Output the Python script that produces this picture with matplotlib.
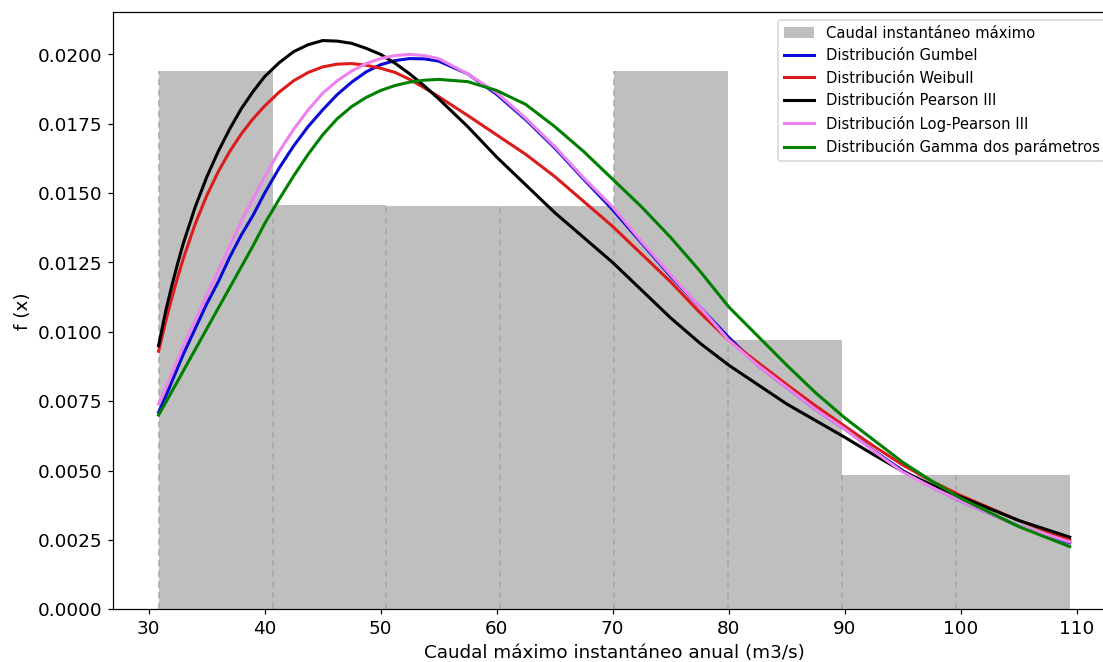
import numpy as np
import matplotlib
matplotlib.use("Agg")
import matplotlib.pyplot as plt

plt.rcParams['font.size'] = 12

# histograma de caudales (21 años)
bin_edges = [30.86, 40.68, 50.49, 60.31, 70.13, 79.94, 89.76, 99.57, 109.39]
bin_counts = [4, 3, 3, 3, 4, 2, 1, 1]

# curvas
x_pts = [30.86, 31.5, 32, 32.5, 33, 34, 35, 36, 37, 38, 39, 40, 41.25, 42.5, 43.75,
         45, 46.25, 47.5, 48.75, 50, 51.25, 52.5, 53.75, 55, 57.5, 60, 62.5, 65, 67.5,
         70, 72.5, 75, 77.5, 80, 82.5, 85, 87.5, 90, 92.5, 95, 97.5, 100, 105, 109.39]

gumbel = [0.0071, 0.0077, 0.0082, 0.0087, 0.0092, 0.0101, 0.0110, 0.0118, 0.0127, 0.0135,
          0.0142, 0.0150, 0.0159, 0.0167, 0.0174, 0.0180, 0.01855, 0.0190, 0.01937, 0.01963,
          0.01978, 0.01985, 0.01984, 0.01976, 0.0193, 0.01856, 0.01765, 0.01663, 0.0155,
          0.0144, 0.0132, 0.0120, 0.0109, 0.0098, 0.0088, 0.0080, 0.0072, 0.0065, 0.00572,
          0.0050, 0.00441, 0.0039, 0.0030, 0.0024]

weibull = [0.0093, 0.01042, 0.01122, 0.01196, 0.01265, 0.01387, 0.0149, 0.01577, 0.01651,
           0.01714, 0.01768, 0.01814, 0.01864, 0.01905, 0.01935, 0.01955, 0.01965, 0.01967,
           0.01961, 0.0195, 0.01935, 0.0191, 0.0188, 0.01848, 0.0178, 0.0171, 0.0164,
           0.0156, 0.0147, 0.0138, 0.0128, 0.0118, 0.0107, 0.0097, 0.0089, 0.0081, 0.00733,
           0.0066, 0.00588, 0.0052, 0.00462, 0.0041, 0.0032, 0.0025]

pearson3 = [0.0095, 0.0108, 0.01166, 0.01246, 0.0132, 0.01448, 0.01557, 0.0165, 0.01732,
            0.01805, 0.01866, 0.0192, 0.0197, 0.0201, 0.02035, 0.0205, 0.02048, 0.0204,
            0.02022, 0.0200, 0.01968, 0.0193, 0.01887, 0.0184, 0.0174, 0.0163, 0.0153,
            0.0143, 0.0134, 0.0125, 0.0115, 0.0105, 0.0096, 0.0088, 0.0081, 0.0074, 0.0068,
            0.0062, 0.00557, 0.00497, 0.00448, 0.00405, 0.0032, 0.0026]

logpearson3 = [0.0074, 0.0080, 0.0085, 0.0090, 0.0095, 0.0104, 0.0113, 0.0122, 0.0131,
               0.0140, 0.0148, 0.0156, 0.0165, 0.0173, 0.0180, 0.0186, 0.01905, 0.0194,
               0.01967, 0.01985, 0.01996, 0.0200, 0.01996, 0.01985, 0.0193, 0.01862, 0.0177,
               0.01668, 0.01555, 0.0145, 0.01325, 0.01205, 0.0109, 0.0097, 0.0088, 0.0080,
               0.0072, 0.0065, 0.0057, 0.00495, 0.0044, 0.0039, 0.0030, 0.00243]

gamma2 = [0.0070, 0.00747, 0.00785, 0.00822, 0.0086, 0.00935, 0.0101, 0.01085, 0.0116,
          0.01235, 0.0131, 0.0139, 0.01478, 0.01562, 0.0164, 0.0171, 0.01768, 0.01812,
          0.01845, 0.0187, 0.01888, 0.0190, 0.01907, 0.0191, 0.01902, 0.0187, 0.0182,
          0.0174, 0.0165, 0.0155, 0.0145, 0.0134, 0.0122, 0.0109, 0.00985, 0.0088, 0.0078,
          0.0069, 0.0061, 0.0053, 0.00462, 0.0040, 0.00298, 0.00226]

fig = plt.figure(figsize=(10.03, 6.02), dpi=110)
ax = fig.add_axes([0.1024, 0.0796, 0.9085, 0.9018])

centers = [(bin_edges[i] + bin_edges[i + 1]) / 2 for i in range(len(bin_counts))]
heights, edges, _ = ax.hist(centers, bins=bin_edges, weights=bin_counts, density=True,
                            color='gray', alpha=0.5, label='Caudal instantáneo máximo')
ax.vlines(edges[:-1], 0, heights, colors='#a6a6a6', linestyles=(0, (4, 3)), linewidth=1)

ax.plot(x_pts, gumbel, color='#0a0ad8', lw=2, label='Distribución Gumbel')
ax.plot(x_pts, weibull, color='#dc1c1c', lw=2, label='Distribución Weibull')
ax.plot(x_pts, pearson3, color='black', lw=2, label='Distribución Pearson III')
ax.plot(x_pts, logpearson3, color='violet', lw=2, label='Distribución Log-Pearson III')
ax.plot(x_pts, gamma2, color='green', lw=2, label='Distribución Gamma dos parámetros')

ax.set_xlim(26.93, 113.32)
ax.set_ylim(0, 0.021525)
ax.set_xticks(np.arange(30, 111, 10))
ax.spines['right'].set_visible(False)
ax.set_xlabel('Caudal máximo instantáneo anual (m3/s)')
ax.set_ylabel('f (x)')
ax.legend(loc='upper left', bbox_to_anchor=(0.6637, 0.987), borderaxespad=0, fontsize=9.7)

fig.savefig('out.png', dpi=110)
